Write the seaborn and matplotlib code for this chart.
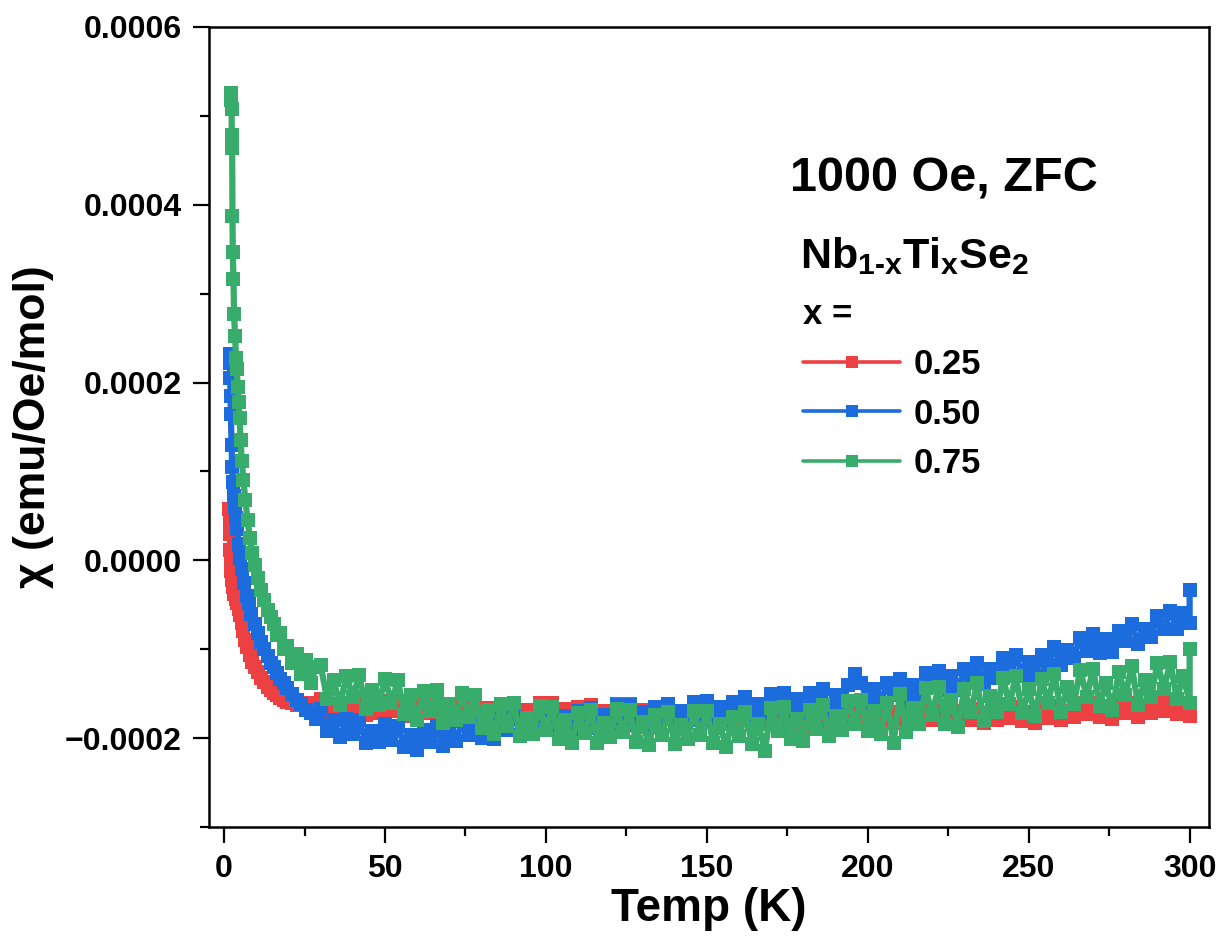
import numpy as np
import matplotlib
matplotlib.use("Agg")
import matplotlib.pyplot as plt
import seaborn as sns
from matplotlib.ticker import MultipleLocator, FuncFormatter

# chi values below are in units of 1e-6 emu/Oe/mol
temp_hi = [30, 32, 34, 36, 38, 40, 42, 44, 46, 48, 50, 52, 54, 56, 58, 60, 62, 64, 66, 68,
           70, 72, 74, 76, 78, 80, 82, 84, 86, 88, 90, 92, 94, 96, 98, 100, 102, 104, 106, 108,
           110, 112, 114, 116, 118, 120, 122, 124, 126, 128, 130, 132, 134, 136, 138, 140, 142, 144, 146, 148,
           150, 152, 154, 156, 158, 160, 162, 164, 166, 168, 170, 172, 174, 176, 178, 180, 182, 184, 186, 188,
           190, 192, 194, 196, 198, 200, 202, 204, 206, 208, 210, 212, 214, 216, 218, 220, 222, 224, 226, 228,
           230, 232, 234, 236, 238, 240, 242, 244, 246, 248, 250, 252, 254, 256, 258, 260, 262, 264, 266, 268,
           270, 272, 274, 276, 278, 280, 282, 284, 286, 288, 290, 292, 294, 296, 298, 300]

# x = 0.25
temp_025_lo = [1.6, 1.7, 1.8, 1.9, 2.0, 2.2, 2.5, 2.8, 3.2, 3.6, 4.0, 4.5, 5.0, 5.5, 6.0, 6.6, 7.2, 8.0,
               8.8, 9.6, 10.5, 11.5, 12.5, 13.5, 14.5, 15.5, 16.5, 17.5, 18.5, 19.5, 21, 22.5, 24, 25.5, 27, 28.5]
chi_025_lo = [58, 45, 30, 12, -2, -12, -22, -30, -38, -44, -48, -55, -62, -70, -80, -90, -98, -106,
              -114, -120, -126, -132, -137, -142, -146, -149, -152, -155, -157, -159, -160, -163, -161, -165, -160, -167]
chi_025_hi = [-156, -172, -162, -175, -160, -170, -158, -174, -165, -172, -158, -170, -158, -175, -165, -177, -162, -172, -160, -176,
              -167, -174, -160, -172, -160, -176, -166, -178, -164, -174, -162, -178, -168, -175, -161, -173, -161, -177, -167, -179,
              -165, -175, -163, -179, -169, -176, -162, -174, -162, -178, -168, -180, -165, -175, -164, -180, -170, -178, -164, -177,
              -165, -181, -172, -184, -169, -180, -168, -184, -175, -182, -168, -181, -169, -185, -175, -188, -173, -183, -171, -188,
              -178, -185, -171, -183, -171, -187, -177, -189, -173, -183, -171, -187, -176, -183, -169, -180, -168, -184, -173, -185,
              -170, -180, -167, -183, -173, -180, -165, -177, -165, -181, -171, -183, -167, -177, -164, -180, -169, -176, -161, -173,
              -160, -176, -166, -178, -162, -172, -160, -176, -165, -172, -158, -169, -157, -173, -163, -175]

# x = 0.50
temp_050_lo = [1.8, 1.8, 1.9, 2.0, 2.1, 2.3, 2.5, 2.7, 3.0, 3.3, 3.6, 4.0, 4.5, 5.0, 5.5, 6.2, 7.0, 7.6,
               8.5, 9.5, 10.5, 11.5, 12.5, 13.5, 14.5, 15.5, 16.5, 17.5, 18.5, 19.5, 21, 22.5, 24, 25.5, 27, 28.5]
chi_050_lo = [232, 222, 205, 185, 165, 130, 105, 88, 72, 60, 48, 35, 18, 3, -10, -25, -40, -48,
              -60, -72, -82, -92, -100, -108, -115, -120, -127, -133, -138, -144, -150, -157, -162, -168, -172, -178]
chi_050_hi = [-167, -192, -180, -199, -179, -195, -180, -205, -192, -204, -184, -202, -186, -210, -196, -213, -191, -204, -186, -209,
              -193, -203, -181, -197, -178, -200, -185, -201, -178, -191, -173, -196, -180, -190, -168, -184, -167, -189, -175, -192,
              -169, -183, -166, -189, -174, -185, -163, -180, -163, -185, -171, -188, -165, -179, -162, -185, -170, -180, -159, -176,
              -158, -180, -165, -182, -159, -172, -154, -178, -162, -172, -150, -166, -149, -171, -156, -172, -149, -162, -145, -168,
              -152, -162, -140, -128, -138, -160, -145, -161, -138, -151, -133, -156, -140, -150, -127, -143, -124, -146, -130, -146,
              -122, -135, -116, -139, -122, -132, -110, -126, -107, -129, -114, -130, -106, -119, -98, -118, -101, -110, -87, -102,
              -83, -104, -88, -103, -79, -91, -72, -94, -77, -86, -63, -77, -57, -77, -59, -71]
temp_050_end = [300]
chi_050_end = [-33]

# x = 0.75
temp_075_lo = [2.2, 2.2, 2.3, 2.4, 2.5, 2.6, 2.7, 2.9, 3.1, 3.4, 3.7, 3.9, 4.2, 4.5, 4.8, 5.1, 5.5, 6.0, 6.6,
               7.3, 8.0, 8.8, 9.6, 10.5, 11.5, 12.5, 13.5, 14.5, 15.5, 16.5, 17.5, 18.5, 19.5, 21, 22.5, 24, 25.5, 27, 28.5]
chi_075_lo = [526, 518, 508, 479, 464, 387, 347, 317, 277, 252, 228, 215, 195, 178, 160, 135, 112, 90, 68,
              45, 25, 8, -5, -20, -33, -45, -56, -64, -72, -84, -82, -100, -96, -116, -105, -128, -112, -138, -120]
chi_075_hi = [-118, -156, -135, -163, -130, -154, -129, -167, -146, -163, -133, -160, -135, -173, -152, -180, -147, -170, -146, -183,
              -162, -180, -149, -176, -151, -189, -168, -195, -162, -186, -161, -198, -177, -195, -164, -191, -165, -201, -180, -206,
              -172, -194, -168, -205, -183, -199, -167, -193, -168, -204, -182, -208, -174, -197, -171, -207, -185, -201, -170, -196,
              -170, -206, -184, -210, -176, -198, -171, -207, -184, -214, -166, -192, -165, -201, -178, -203, -168, -190, -163, -198,
              -175, -191, -158, -184, -157, -192, -170, -195, -160, -205, -150, -193, -166, -184, -144, -174, -142, -184, -157, -187,
              -145, -171, -138, -181, -153, -171, -132, -162, -130, -172, -145, -175, -134, -160, -128, -171, -143, -162, -123, -154,
              -122, -164, -138, -168, -126, -152, -119, -163, -135, -154, -115, -145, -114, -156, -130, -160]
temp_075_end = [300]
chi_075_end = [-100]

labels = ["0.25", "0.50", "0.75"]
colors = ["#ED4042", "#1C6CDE", "#38AC6A"]

series = [
    (temp_025_lo + temp_hi, chi_025_lo + chi_025_hi),
    (temp_050_lo + temp_hi + temp_050_end, chi_050_lo + chi_050_hi + chi_050_end),
    (temp_075_lo + temp_hi + temp_075_end, chi_075_lo + chi_075_hi + chi_075_end),
]

sns.set_theme(style="ticks")
plt.rcParams["font.family"] = ["Liberation Sans", "DejaVu Sans"]
plt.rcParams["font.weight"] = "bold"
plt.rcParams["text.color"] = "black"
plt.rcParams["axes.labelcolor"] = "black"
plt.rcParams["xtick.color"] = "black"
plt.rcParams["ytick.color"] = "black"
plt.rcParams["mathtext.fontset"] = "custom"
plt.rcParams["mathtext.rm"] = "Liberation Sans:bold"
plt.rcParams["mathtext.it"] = "Liberation Sans:bold"
plt.rcParams["mathtext.bf"] = "Liberation Sans:bold"

fig = plt.figure(figsize=(12.25, 9.47), dpi=100)
ax = fig.add_axes([0.1706, 0.1267, 0.8163, 0.8448])

for (t, c), lab, col in zip(series, labels, colors):
    sns.lineplot(x=np.array(t), y=np.array(c) * 1e-6, ax=ax, color=col, label=lab,
                 marker="s", markersize=10, markeredgewidth=0, linewidth=4.5,
                 estimator=None, sort=False)

ax.set_xlim(-4.7, 306)
ax.set_ylim(-0.0003, 0.0006)

ax.xaxis.set_major_locator(MultipleLocator(50))
ax.xaxis.set_minor_locator(MultipleLocator(25))
ax.yaxis.set_major_locator(MultipleLocator(0.0002))
ax.yaxis.set_minor_locator(MultipleLocator(0.0001))


def fmt(v, pos):
    s = f"{v:.4f}"
    if s == "-0.0000":
        s = "0.0000"
    return s.replace("-", "\u2212")


ax.yaxis.set_major_formatter(FuncFormatter(fmt))

ax.tick_params(which="major", direction="out", length=11.5, width=1.6, labelsize=23, pad=8)
ax.tick_params(which="minor", direction="out", length=6.5, width=1.6)
ax.tick_params(top=False, right=False, which="both")
for lab in ax.get_xticklabels() + ax.get_yticklabels():
    lab.set_fontweight("bold")
for sp in ax.spines.values():
    sp.set_linewidth(1.8)
    sp.set_color("black")

ax.set_xlabel("Temp (K)", fontsize=33, fontweight="bold", labelpad=2)
ax.set_ylabel("\u03c7 (emu/Oe/mol)", fontsize=32, fontweight="bold", labelpad=8)

ax.text(0.581, 0.794, "1000 Oe, ZFC", transform=ax.transAxes, fontsize=35,
        fontweight="bold", va="baseline", ha="left")
ax.text(0.591, 0.699, r"$\mathrm{Nb}_{1\text{-}x}\mathrm{Ti}_{x}\mathrm{Se}_{2}$",
        transform=ax.transAxes, fontsize=31, va="baseline", ha="left")

leg = ax.legend(title="x =", loc="upper left", bbox_to_anchor=(0.594, 0.661),
                frameon=False, borderpad=0, borderaxespad=0, alignment="left",
                prop={"weight": "bold", "size": 25},
                title_fontproperties={"weight": "bold", "size": 25},
                handlelength=2.8, handletextpad=0.4, labelspacing=0.48,
                markerscale=0.8)
for h in leg.legend_handles:
    h.set_linewidth(2.6)

fig.savefig("out.png", dpi=100)
